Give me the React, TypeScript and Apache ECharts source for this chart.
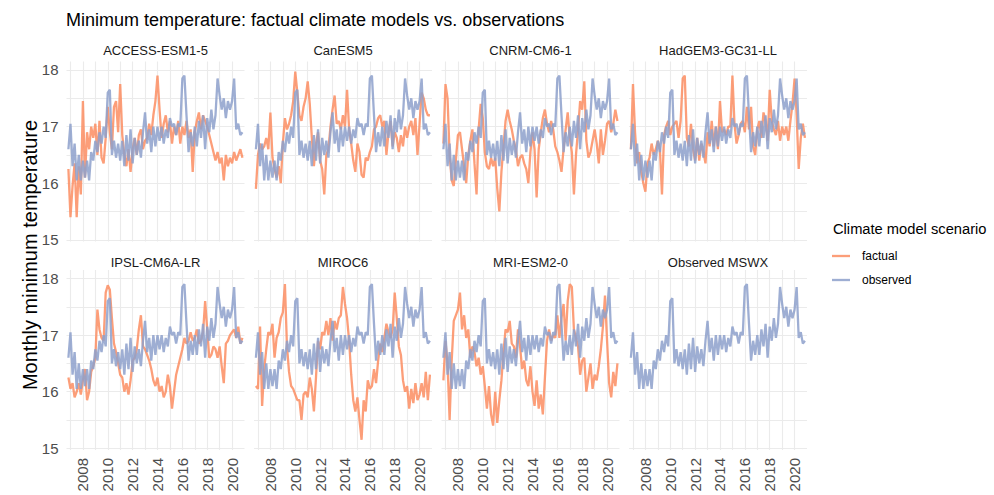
import React, { useEffect, useRef } from "react";
import * as echarts from "echarts";

// Facet names (panel order: left-to-right, top-to-bottom)
const panelNames = [
  "ACCESS-ESM1-5",
  "CanESM5",
  "CNRM-CM6-1",
  "HadGEM3-GC31-LL",
  "IPSL-CM6A-LR",
  "MIROC6",
  "MRI-ESM2-0",
  "Observed MSWX",
];

// Time grid: every two months starting Nov 2006
const startYear = 2006 + 10 / 12;
const stepYears = 2 / 12;

// Observed MSWX (shown in every panel)
const observed = [
  16.6,
  17.05, 16.3, 16.7, 16.05, 16.5, 16.05,
  16.4, 16.1, 16.4, 16.05, 16.55, 16.4,
  16.75, 16.55, 16.9, 16.7, 17.0, 16.8,
  17.6, 17.65, 16.5, 16.75, 16.45, 16.7,
  16.4, 16.75, 16.3, 16.85, 16.4, 16.95,
  16.35, 16.8, 16.5, 16.75, 16.45, 16.9,
  17.25, 16.7, 16.95, 16.55, 17.0, 16.65,
  17.0, 16.75, 17.0, 16.7, 16.95, 16.8,
  17.15, 17.0, 17.05, 16.85, 17.05, 17.0,
  17.85, 17.9, 17.2, 16.55, 16.9, 16.65,
  17.0, 16.65, 17.1, 16.8, 17.2, 16.6,
  17.15, 16.9, 17.3, 16.95, 17.2, 17.85,
  17.55, 17.3, 17.5, 17.15, 17.45, 17.3,
  17.45, 17.85, 16.95, 17.05, 16.85, 16.9,
];

const accessFactual = [
  16.25,
  15.4, 15.95, 16.35, 15.4, 16.3, 15.8,
  17.45, 16.1, 16.9, 16.6, 17.0, 16.8,
  17.05, 16.5, 17.1, 16.45, 16.35, 16.8,
  17.35, 16.9, 16.6, 17.35, 17.45, 16.9,
  17.75, 16.85, 16.5, 16.3, 16.6, 16.2,
  16.6, 16.8, 16.5, 16.85, 16.95, 16.6,
  16.75, 16.8, 17.05, 16.85, 17.2, 17.45,
  17.9, 17.3, 16.8, 17.05, 17.2, 16.9,
  17.1, 16.7, 17.0, 16.85, 17.1, 16.7,
  17.0, 16.85, 17.1, 16.8, 16.95, 16.2,
  16.9, 17.1, 17.25, 16.95, 17.2, 17.1,
  17.0, 16.85, 16.7, 16.55, 16.4, 16.55,
  16.35, 16.45, 16.05, 16.5, 16.3, 16.45,
  16.35, 16.55, 16.4, 16.5, 16.6, 16.45,
];

const canesmFactual = [
  15.9,
  16.5, 16.7, 16.6, 16.65, 16.8, 16.6,
  17.25, 16.45, 16.25, 16.1, 16.3, 16.0,
  16.7, 17.15, 16.95, 17.05, 17.2, 17.45,
  17.97, 17.6, 17.2, 17.1, 17.35, 17.5,
  17.8, 17.4, 16.8, 16.3, 16.7, 16.9,
  16.4, 16.25, 15.8, 16.5, 16.6, 17.0,
  17.3, 17.55, 17.05, 17.1, 16.95, 17.2,
  17.0, 17.65, 16.95, 16.7, 16.4, 16.2,
  16.7, 16.55, 16.15, 16.1, 16.45, 16.4,
  16.55, 16.65, 16.95, 17.0, 17.15, 17.2,
  17.0, 17.1, 16.5, 16.9, 17.1, 16.65,
  16.9, 16.8, 16.55, 16.85, 16.65, 17.0,
  16.8, 17.0, 17.1, 16.85, 17.15, 16.5,
  17.05, 17.6, 17.5, 17.3, 17.2, 17.2,
];

const cnrmFactual = [
  16.7,
  17.75, 17.5, 16.5, 16.05, 15.95, 16.4,
  16.85, 16.9, 16.6, 16.3, 16.0, 16.5,
  16.75, 16.95, 16.35, 15.8, 16.95, 17.4,
  17.15, 16.55, 16.3, 16.25, 16.45, 16.3,
  16.45, 15.9, 15.5, 16.2, 16.65, 17.1,
  17.3, 17.1, 16.95, 16.75, 16.6, 16.3,
  16.45, 16.5, 16.35, 16.25, 16.0, 16.55,
  16.9, 16.6, 15.75, 16.6, 16.9, 17.15,
  17.3, 17.05, 16.9, 17.1, 16.95, 16.65,
  16.55, 16.4, 16.2, 16.6, 16.95, 17.25,
  16.8, 16.55, 15.8, 16.5, 16.95, 17.45,
  17.3, 17.8, 16.75, 16.45, 16.55, 16.75,
  16.95, 16.7, 16.35, 16.95, 16.5, 16.75,
  17.05, 17.1, 16.9, 17.05, 17.3, 17.1,
];

const hadgemFactual = [
  16.6,
  17.75, 16.9, 16.35, 16.55, 16.2, 16.0,
  15.85, 16.35, 16.45, 16.7, 16.5, 16.6,
  16.75, 16.6, 15.8, 16.85, 17.0, 17.1,
  16.85, 17.0, 17.05, 17.1, 16.8, 17.1,
  17.85, 17.9, 16.8, 16.65, 17.05, 16.6,
  16.4, 16.8, 16.4, 16.7, 16.55, 16.35,
  16.9, 16.65, 17.1, 16.65, 17.0, 16.6,
  17.45, 16.9, 16.95, 16.85, 17.0, 17.0,
  17.9, 17.05, 16.7, 16.85, 17.05, 17.1,
  16.9, 17.35, 16.95, 17.35, 16.65, 16.5,
  16.95, 17.1, 16.8, 17.25, 17.1, 16.75,
  17.65, 17.1, 16.95, 16.85, 17.1, 16.75,
  17.0, 16.85, 17.0, 16.75, 17.1, 17.4,
  17.85, 17.2, 16.25, 16.8, 17.05, 16.8,
];

const ipslFactual = [
  16.25,
  16.05, 16.15, 15.9, 16.0, 16.15, 15.95,
  16.2, 16.4, 15.85, 16.0, 16.35, 16.45,
  16.6, 17.45, 17.1, 16.95, 16.9, 17.75,
  17.88, 17.8, 17.3, 16.85, 16.7, 16.5,
  16.3, 16.25, 16.0, 16.15, 15.95, 16.2,
  16.55, 16.6, 16.75, 17.1, 17.35, 16.8,
  16.75, 16.65, 16.55, 16.4, 16.2, 16.1,
  16.25, 16.0, 16.1, 15.9, 16.0, 16.3,
  16.1, 15.7, 16.0, 16.3, 16.45, 16.6,
  16.75, 16.95, 16.85, 16.9, 17.05, 16.9,
  16.95, 17.1, 16.85, 16.9, 17.05, 17.6,
  17.1, 16.6, 16.65, 16.8, 16.75, 16.6,
  16.8, 16.45, 16.15, 16.85, 16.9, 17.0,
  17.05, 17.1, 16.95, 17.15, 16.85, 16.95,
];

const mirocFactual = [
  16.1,
  16.05, 17.15, 15.75, 16.4, 16.75, 17.05,
  17.0, 17.2, 16.6, 16.95, 17.05, 17.3,
  17.4, 17.9, 16.8, 16.35, 16.1, 16.05,
  15.95, 15.85, 15.85, 15.5, 15.95, 16.0,
  15.9, 16.25, 16.05, 15.65, 16.25, 16.9,
  16.75, 17.05, 17.0, 17.25, 17.0, 17.3,
  16.9, 17.25, 17.1, 17.3, 17.35, 17.85,
  17.55, 17.3, 16.9, 16.3, 15.85, 15.65,
  15.9, 15.5, 15.15, 15.85, 15.65, 16.2,
  16.05, 16.1, 16.4, 16.15, 16.55, 16.85,
  16.7, 16.95, 17.2, 17.05, 16.95, 17.1,
  17.75, 17.3, 16.8, 16.65, 16.2, 16.0,
  16.1, 15.7, 16.05, 15.8, 16.15, 15.85,
  15.95, 16.15, 15.9, 16.35, 15.85, 16.3,
];

const mriFactual = [
  16.2,
  16.9, 16.5, 15.5, 16.55, 17.25, 17.35,
  17.45, 17.75, 17.1, 17.35, 16.95, 17.1,
  16.6, 16.8, 16.7, 16.45, 16.6, 16.3,
  16.45, 16.1, 15.7, 16.1, 15.6, 15.4,
  16.0, 15.45, 15.85, 16.2, 16.7, 17.1,
  17.05, 17.25, 16.85, 16.8, 16.6, 17.1,
  16.8, 16.4, 16.55, 16.2, 16.1, 16.45,
  16.0, 15.75, 16.2, 15.7, 15.95, 15.6,
  16.25, 16.9, 17.1, 16.9, 17.0, 16.95,
  17.35, 16.95, 17.3, 17.55, 16.9, 17.6,
  17.9, 17.85, 17.1, 16.95, 16.8, 16.3,
  16.55, 16.6, 16.0, 16.25, 16.5, 16.05,
  16.3, 16.2, 16.45, 16.75, 17.15, 17.7,
  16.9, 16.15, 15.9, 16.35, 16.1, 16.5,
];

const factualByPanel: (number[] | null)[] = [
  accessFactual,
  canesmFactual,
  cnrmFactual,
  hadgemFactual,
  ipslFactual,
  mirocFactual,
  mriFactual,
  null,
];

const yearGridTicks = [2007, 2008, 2009, 2010, 2011, 2012, 2013, 2014, 2015, 2016, 2017, 2018, 2019, 2020];
const yearLabels = [2008, 2010, 2012, 2014, 2016, 2018, 2020];
const tempGridTicks = [15, 15.5, 16, 16.5, 17, 17.5, 18];
const tempLabels = [15, 16, 17, 18];

const seriesNames = ["factual", "observed"];
const seriesColors = ["#fc8d62", "#8da0cb"];

const FONT = "'Liberation Sans', Arial, Helvetica, sans-serif";

function toPairs(values: number[]) {
  return values.map((v, i) => [startYear + i * stepYears, v]);
}

function buildOption() {
  const colLefts = [66.5, 254, 441.5, 629];
  const rowTops = [61.5, 270];
  const pw = 178;
  const ph = 180;

  const grids: any[] = [];
  const xAxes: any[] = [];
  const yAxes: any[] = [];
  const series: any[] = [];
  const graphics: any[] = [];

  panelNames.forEach((name, i) => {
    const row = Math.floor(i / 4);
    const col = i % 4;
    const left = colLefts[col];
    const top = rowTops[row];
    grids.push({ left, top, width: pw, height: ph, containLabel: false });
    xAxes.push({
      gridIndex: i,
      type: "value",
      min: 2006.68,
      max: 2021.0,
      axisLine: { show: false },
      axisTick: { show: false, customValues: yearGridTicks },
      axisLabel: {
        show: row === 1,
        customValues: yearLabels,
        rotate: 90,
        margin: 8,
        color: "#4d4d4d",
        fontSize: 15,
        fontFamily: FONT,
        formatter: (v: number) => String(v),
      },
      splitLine: { show: true, lineStyle: { color: "#ebebeb", width: 1.1 } },
    });
    yAxes.push({
      gridIndex: i,
      type: "value",
      min: 14.97,
      max: 18.15,
      axisLine: { show: false },
      axisTick: { show: false, customValues: tempGridTicks },
      axisLabel: {
        show: col === 0,
        customValues: tempLabels,
        margin: 8,
        color: "#4d4d4d",
        fontSize: 15,
        fontFamily: FONT,
        formatter: (v: number) => String(v),
      },
      splitLine: { show: true, lineStyle: { color: "#ebebeb", width: 1.1 } },
    });
    const fact = factualByPanel[i];
    if (fact) {
      series.push({
        type: "line",
        name: seriesNames[0],
        xAxisIndex: i,
        yAxisIndex: i,
        data: toPairs(fact),
        showSymbol: false,
        lineStyle: { color: seriesColors[0], width: 2.3, opacity: 0.85 },
        itemStyle: { color: seriesColors[0] },
        silent: true,
      });
    }
    series.push({
      type: "line",
      name: seriesNames[1],
      xAxisIndex: i,
      yAxisIndex: i,
      data: toPairs(observed),
      showSymbol: false,
      lineStyle: { color: seriesColors[1], width: 2.3, opacity: 0.85 },
      itemStyle: { color: seriesColors[1] },
      silent: true,
    });
    graphics.push({
      type: "text",
      x: left + pw / 2,
      y: row === 0 ? 50 : 262,
      style: {
        text: name,
        fill: "#1a1a1a",
        font: `13px ${FONT}`,
        textAlign: "center",
        textVerticalAlign: "middle",
      },
    });
  });

  graphics.push({
    type: "text",
    x: 66,
    y: 20,
    style: {
      text: "Minimum temperature: factual climate models vs. observations",
      fill: "#000",
      font: `18px ${FONT}`,
      textAlign: "left",
      textVerticalAlign: "middle",
    },
  });
  graphics.push({
    type: "text",
    x: 30,
    y: 255,
    rotation: Math.PI / 2,
    style: {
      text: "Monthly minimum temperature",
      fill: "#000",
      font: `20px ${FONT}`,
      textAlign: "center",
      textVerticalAlign: "middle",
    },
  });
  graphics.push({
    type: "text",
    x: 833,
    y: 229,
    style: {
      text: "Climate model scenario",
      fill: "#000",
      font: `14.7px ${FONT}`,
      textAlign: "left",
      textVerticalAlign: "middle",
    },
  });
  const legendYs = [256, 280];
  seriesNames.forEach((nm, k) => {
    graphics.push({
      type: "line",
      shape: { x1: 832, y1: legendYs[k], x2: 850, y2: legendYs[k] },
      style: { stroke: seriesColors[k], lineWidth: 2.3, opacity: 0.85 },
    });
    graphics.push({
      type: "text",
      x: 862,
      y: legendYs[k],
      style: {
        text: nm,
        fill: "#000",
        font: `12px ${FONT}`,
        textAlign: "left",
        textVerticalAlign: "middle",
      },
    });
  });

  return {
    animation: false,
    backgroundColor: "#ffffff",
    grid: grids,
    xAxis: xAxes,
    yAxis: yAxes,
    series,
    graphic: graphics,
  };
}

export default function App() {
  const ref = useRef<HTMLDivElement>(null);
  useEffect(() => {
    if (!ref.current) return;
    const chart = echarts.init(ref.current, null, { renderer: "svg" });
    chart.setOption(buildOption());
    return () => chart.dispose();
  }, []);
  return (
    <div
      ref={ref}
      style={{ position: "absolute", left: 0, top: 0, width: 994, height: 495 }}
    />
  );
}
